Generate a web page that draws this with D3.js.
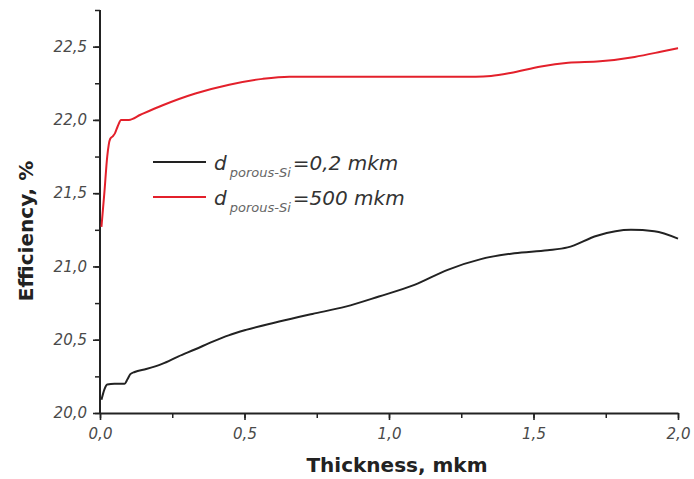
<!DOCTYPE html>
<html>
<head>
<meta charset="utf-8">
<script src="https://cdn.jsdelivr.net/npm/d3@7"></script>
<style>
  html, body { margin: 0; padding: 0; background: #fff; }
  svg { display: block; }
  text { font-family: "DejaVu Sans", Verdana, sans-serif; }
</style>
</head>
<body>
<svg id="chart" width="694" height="479"></svg>
<script>
// ---- data ----
const xTicks = [0, 0.5, 1.0, 1.5, 2.0];
const yTicks = [20.0, 20.5, 21.0, 21.5, 22.0, 22.5];

const blackX = [0.005, 0.015, 0.025, 0.05, 0.085, 0.095, 0.105, 0.12, 0.16, 0.215, 0.27, 0.33, 0.39, 0.445, 0.505, 0.62, 0.735, 0.85, 0.965, 1.088, 1.203, 1.318, 1.434, 1.549, 1.618, 1.72, 1.837, 1.918, 2.0];
const blackY = [20.09, 20.16, 20.195, 20.2, 20.2, 20.23, 20.265, 20.28, 20.30, 20.335, 20.385, 20.435, 20.487, 20.53, 20.567, 20.624, 20.676, 20.726, 20.795, 20.874, 20.977, 21.05, 21.09, 21.11, 21.13, 21.21, 21.25, 21.24, 21.19];

const redX = [0.005, 0.015, 0.025, 0.035, 0.045, 0.052, 0.061, 0.073, 0.10, 0.14, 0.217, 0.33, 0.447, 0.563, 0.655, 1.0, 1.3, 1.353, 1.42, 1.526, 1.62, 1.73, 1.85, 1.94, 2.0];
const redY = [21.27, 21.5, 21.75, 21.87, 21.89, 21.91, 21.955, 22.0, 22.0, 22.035, 22.10, 22.18, 22.24, 22.28, 22.295, 22.295, 22.295, 22.30, 22.32, 22.365, 22.39, 22.40, 22.43, 22.465, 22.49];

const seriesNames = ["=0,2 mkm", "=500 mkm"];
const seriesColors = ["#222222", "#e3202b"];

// ---- chart ----
const svg = d3.select("#chart");
const x = d3.scaleLinear().domain([0, 2]).range([100, 678]);
const y = d3.scaleLinear().domain([20, 22.75]).range([413, 10]);
const fmt = d => d3.format(".1f")(d).replace(".", ",");

// minor ticks
const xMinor = d3.range(0, 2.001, 0.25);
const yMinor = d3.range(20, 22.751, 0.25);

const gx = svg.append("g").attr("transform", "translate(0,413)");
gx.call(d3.axisBottom(x).tickValues(xMinor).tickSize(5).tickFormat(""))
  .call(g => g.selectAll("line").attr("stroke", "#222").attr("stroke-width", 1.5))
  .call(g => g.select(".domain").remove());
gx.append("g").call(d3.axisBottom(x).tickValues(xTicks).tickSize(7).tickSizeOuter(0).tickPadding(8).tickFormat(fmt))
  .call(g => g.select(".domain").attr("stroke", "#222").attr("stroke-width", 2))
  .call(g => g.selectAll("line").attr("stroke", "#222").attr("stroke-width", 1.6))
  .call(g => g.selectAll("text").attr("font-size", 15).attr("font-style", "italic")
      .attr("fill", "#4a4a4a").attr("font-family", "DejaVu Sans, sans-serif"));

const gy = svg.append("g").attr("transform", "translate(100,0)");
gy.call(d3.axisLeft(y).tickValues(yMinor).tickSize(5).tickFormat(""))
  .call(g => g.selectAll("line").attr("stroke", "#222").attr("stroke-width", 1.5))
  .call(g => g.select(".domain").remove());
gy.append("g").call(d3.axisLeft(y).tickValues(yTicks).tickSize(7).tickSizeOuter(0).tickPadding(6).tickFormat(fmt))
  .call(g => g.selectAll("line").attr("stroke", "#222").attr("stroke-width", 1.6))
  .call(g => g.select(".domain").remove())
  .call(g => g.selectAll("text").attr("font-size", 15).attr("font-style", "italic")
      .attr("fill", "#4a4a4a").attr("font-family", "DejaVu Sans, sans-serif"));
gy.append("line").attr("x1", 0).attr("x2", 0).attr("y1", y(22.75)).attr("y2", 414)
  .attr("stroke", "#222").attr("stroke-width", 2);

// lines
const line = d3.line().x(d => x(d[0])).y(d => y(d[1])).curve(d3.curveMonotoneX);
const blackData = blackX.map((v, i) => [v, blackY[i]]);
const redData = redX.map((v, i) => [v, redY[i]]);
svg.append("path").datum(redData).attr("d", line).attr("fill", "none")
  .attr("stroke", seriesColors[1]).attr("stroke-width", 2);
svg.append("path").datum(blackData).attr("d", line).attr("fill", "none")
  .attr("stroke", seriesColors[0]).attr("stroke-width", 2);

// axis titles
svg.append("text").attr("x", 397).attr("y", 472).attr("text-anchor", "middle")
  .attr("font-size", 20).attr("font-weight", "bold").attr("fill", "#222")
  .text("Thickness, mkm");
svg.append("text").attr("transform", "translate(33,231) rotate(-90)").attr("text-anchor", "middle")
  .attr("font-size", 20).attr("font-weight", "bold").attr("fill", "#222")
  .text("Efficiency, %");

// legend
const legY = [162, 197];
const leg = svg.append("g");
seriesNames.forEach((name, i) => {
  leg.append("line").attr("x1", 153).attr("x2", 206).attr("y1", legY[i]).attr("y2", legY[i])
    .attr("stroke", seriesColors[i]).attr("stroke-width", 2);
  const t = leg.append("text").attr("x", 214).attr("y", legY[i] + 8)
    .attr("font-size", 20).attr("font-style", "italic").attr("fill", "#333");
  t.append("tspan").text("d");
  t.append("tspan").attr("font-size", 13).attr("dx", 3).attr("dy", 7).attr("fill", "#666").text("porous-Si");
  t.append("tspan").attr("dy", -7).attr("dx", 2).text(name);
});
</script>
</body>
</html>
